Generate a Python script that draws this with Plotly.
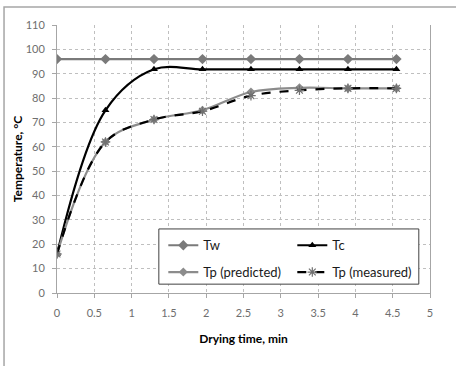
import plotly.graph_objects as go

time_min = [0, 0.65, 1.3, 1.95, 2.6, 3.25, 3.9, 4.55]
tw = [96, 96, 96, 96, 96, 96, 96, 96]
tc = [16, 75, 91.8, 91.8, 91.8, 91.8, 91.8, 91.8]
tp_pred = [16, 62, 71.2, 75, 82.5, 84.2, 84, 84]
tp_meas = [16, 62, 71.2, 74.6, 81, 83.2, 84, 84]
series_names = ["Tw", "Tc", "Tp (predicted)", "Tp (measured)"]

FONT = "Lato"
fig = go.Figure()
fig.add_trace(go.Scatter(x=time_min, y=tw, name=series_names[0], mode="lines+markers", legend="legend",
                         line=dict(color="#7a7a7a", width=2.2, shape="spline"),
                         marker=dict(symbol="diamond", size=8, color="#7a7a7a")))
fig.add_trace(go.Scatter(x=time_min, y=tc, name=series_names[1], mode="lines+markers", legend="legend",
                         line=dict(color="#000000", width=2.2, shape="spline", smoothing=1.0),
                         marker=dict(symbol="triangle-up", size=7, color="#000000")))
fig.add_trace(go.Scatter(x=time_min, y=tp_pred, name=series_names[2], mode="lines+markers", legend="legend2",
                         line=dict(color="#8c8c8c", width=2.2, shape="spline"),
                         marker=dict(symbol="diamond", size=7, color="#8c8c8c")))
fig.add_trace(go.Scatter(x=time_min, y=tp_meas, name=series_names[3], mode="lines+markers", legend="legend2",
                         line=dict(color="#000000", width=2.2, dash="dash", shape="spline"),
                         marker=dict(symbol="asterisk-open", size=8, color="#707070",
                                     line=dict(color="#707070", width=1.2))))

# outer frame
fig.add_shape(type="rect", xref="paper", yref="paper", x0=-0.142, x1=1.3, y0=-0.5, y1=1.067,
              line=dict(color="#a6a6a6", width=1.5), fillcolor="rgba(0,0,0,0)", layer="below")
# legend box
fig.add_shape(type="rect", xref="paper", yref="paper", x0=0.273, x1=0.97, y0=0.033, y1=0.239,
              line=dict(color="#404040", width=1), fillcolor="white", layer="above")

leg_common = dict(orientation="h", xanchor="left", yanchor="middle", x=0.285,
                  entrywidth=84, borderwidth=0, bgcolor="rgba(0,0,0,0)",
                  font=dict(family=FONT, size=13, color="#1a1a1a"),
                  itemwidth=30, valign="middle")

fig.update_layout(
    width=456, height=366,
    margin=dict(l=57, r=26, t=25, b=73),
    paper_bgcolor="white", plot_bgcolor="white",
    font=dict(family=FONT, size=11, color="#6e6e6e"),
    showlegend=True,
    legend=dict(y=0.178, **leg_common),
    legend2=dict(y=0.078, **leg_common),
    xaxis=dict(range=[0, 5], tickvals=[0, 0.5, 1, 1.5, 2, 2.5, 3, 3.5, 4, 4.5, 5],
               ticktext=["0", "0.5", "1", "1.5", "2", "2.5", "3", "3.5", "4", "4.5", "5"],
               showgrid=True, gridcolor="#bfbfbf", griddash="dot", gridwidth=1,
               showline=True, linecolor="#a6a6a6", linewidth=1, mirror=False,
               ticks="outside", ticklen=4, tickcolor="#a6a6a6", zeroline=False,
               ticklabelstandoff=6,
               title=dict(text="<b>Drying time, min</b>", font=dict(family=FONT, size=12, color="#000000"),
                          standoff=16)),
    yaxis=dict(range=[0, 110], dtick=10,
               showgrid=True, gridcolor="#bfbfbf", griddash="dot", gridwidth=1,
               showline=True, linecolor="#a6a6a6", linewidth=1, mirror=True,
               ticks="outside", ticklen=4, tickcolor="#a6a6a6", zeroline=False,
               ticklabelstandoff=5,
               title=dict(text="<b>Temperature, °C</b>", font=dict(family=FONT, size=12, color="#000000"),
                          standoff=0)),
)
fig.write_html("out.html")
